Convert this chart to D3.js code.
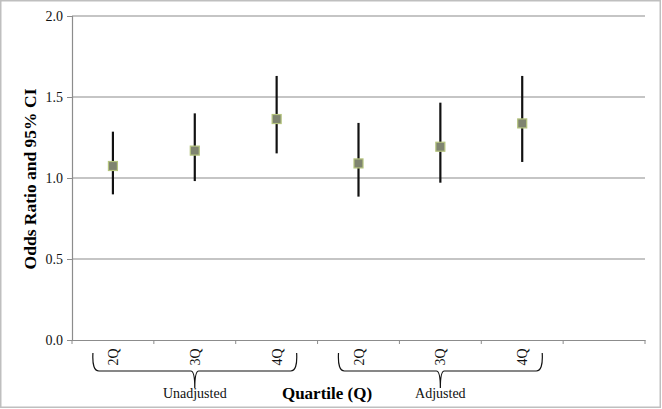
<!DOCTYPE html>
<html><head><meta charset="utf-8">
<script src="https://cdn.jsdelivr.net/npm/d3@7"></script>
<style>body{margin:0;background:#fff}svg{display:block}</style>
</head><body>
<script>
const categories = ["2Q","3Q","4Q","2Q","3Q","4Q"];
const groups = [{name:"Unadjusted", from:0, to:2},{name:"Adjusted", from:3, to:5}];
const oddsRatio = [1.074, 1.169, 1.364, 1.090, 1.193, 1.337];
const lowerCI   = [0.899, 0.981, 1.152, 0.885, 0.971, 1.099];
const upperCI   = [1.286, 1.399, 1.630, 1.340, 1.465, 1.630];
const yTicks = [0.0, 0.5, 1.0, 1.5, 2.0];

(function(){
const W = 662, H = 409;
const FONT = "'Liberation Serif', 'Times New Roman', serif";
const svg = d3.select("body").append("svg").attr("width", W).attr("height", H);
svg.append("rect").attr("x",0.75).attr("y",0.75).attr("width",W-2.5).attr("height",H-2.5)
  .attr("fill","#fff").attr("stroke","#bfbfbf").attr("stroke-width",1.5);

const pL = 72, pR = 645, pT = 16, pB = 340;
const slots = d3.range(7);
const x = d3.scaleBand().domain(slots).range([pL, pR]).padding(0);
const y = d3.scaleLinear().domain([0, 2]).range([pB, pT]);

// gridlines
svg.append("g").selectAll("line").data(yTicks.filter(d=>d>0)).join("line")
  .attr("x1", pL).attr("x2", pR).attr("y1", d=>y(d)).attr("y2", d=>y(d))
  .attr("stroke", "#8c8c8c").attr("stroke-width", 1.2);

// y axis
const yAxis = svg.append("g").attr("transform", `translate(${pL},0)`)
  .call(d3.axisLeft(y).tickValues(yTicks).tickFormat(d3.format(".1f")).tickSizeOuter(0).tickSize(5));
yAxis.attr("font-family", FONT);
yAxis.select(".domain").attr("stroke","#8c8c8c").attr("stroke-width",1.2);
yAxis.selectAll(".tick line").attr("stroke","#8c8c8c");
yAxis.selectAll("text").style("font-family",FONT).attr("font-size",14).attr("fill","#111").attr("dx",-1);

// x axis
const xAxis = svg.append("g").attr("transform", `translate(0,${pB})`)
  .call(d3.axisBottom(x).tickSize(0).tickFormat(""));
xAxis.select(".domain").attr("stroke","#8c8c8c").attr("stroke-width",1.2);
svg.append("g").selectAll("line").data(d3.range(8)).join("line")
  .attr("x1", d=> d<7 ? x(d) : pR).attr("x2", d=> d<7 ? x(d) : pR)
  .attr("y1", pB).attr("y2", pB+4).attr("stroke","#8c8c8c").attr("stroke-width",1);

const cx = i => x(i) + x.bandwidth()/2;

// category labels
svg.append("g").selectAll("text").data(categories).join("text")
  .attr("transform", (d,i)=>`translate(${cx(i)+5},${357}) rotate(-90)`)
  .attr("text-anchor","middle").style("font-family",FONT).attr("font-size",14).attr("fill","#111")
  .text(d=>d);

// braces
groups.forEach(g => {
  const x0 = cx(g.from) - 20, x1 = cx(g.to) + 20, xm = (x0 + x1)/2;
  const yt = 353, yb = 371, yp = 388;
  const p = `M${x0},${yt} Q${x0-1},${yb} ${x0+6},${yb} L${xm-4},${yb} Q${xm},${yb} ${xm},${yp} Q${xm},${yb} ${xm+4},${yb} L${x1-6},${yb} Q${x1+1},${yb} ${x1},${yt}`;
  svg.append("path").attr("d", p).attr("fill","none").attr("stroke","#111").attr("stroke-width",1.2);
  svg.append("text").attr("x", xm).attr("y", 398).attr("text-anchor","middle")
    .style("font-family",FONT).attr("font-size",14).attr("fill","#111").text(g.name);
});

// axis titles
svg.append("text").attr("x", 327).attr("y", 399).attr("text-anchor","middle")
  .style("font-family",FONT).attr("font-weight","bold").attr("font-size",17).attr("fill","#000")
  .text("Quartile (Q)");
svg.append("text").attr("transform","translate(36,179) rotate(-90)").attr("text-anchor","middle")
  .style("font-family",FONT).attr("font-weight","bold").attr("font-size",17.5).attr("fill","#000")
  .text("Odds Ratio and 95% CI");

// error bars
svg.append("g").selectAll("line").data(oddsRatio).join("line")
  .attr("x1",(d,i)=>cx(i)).attr("x2",(d,i)=>cx(i))
  .attr("y1",(d,i)=>y(lowerCI[i])).attr("y2",(d,i)=>y(upperCI[i]))
  .attr("stroke","#111").attr("stroke-width",2.2);

// markers
svg.append("g").selectAll("rect").data(oddsRatio).join("rect")
  .attr("x",(d,i)=>cx(i)-4.5).attr("y",d=>y(d)-4.5).attr("width",9).attr("height",9)
  .attr("fill","#7f8470").attr("stroke","#b5c47e").attr("stroke-width",1.2);
})();
</script>
</body></html>
